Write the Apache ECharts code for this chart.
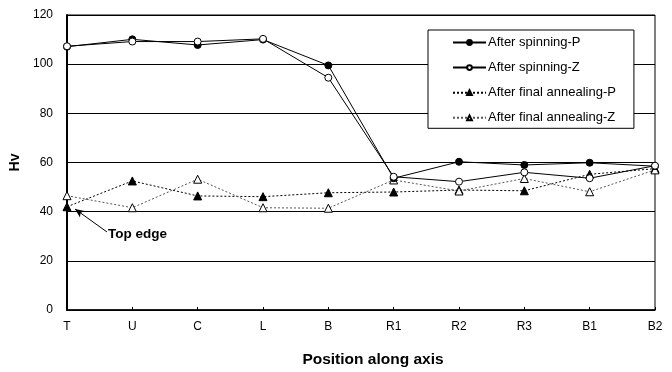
<!DOCTYPE html>
<html><head><meta charset="utf-8">
<script src="https://cdn.jsdelivr.net/npm/echarts@6/dist/echarts.min.js"></script>
<style>html,body{margin:0;padding:0;background:#fff}#c{width:672px;height:372px}</style>
</head><body><div id="c"></div>
<script>
const categories = ['T','U','C','L','B','R1','R2','R3','B1','B2'];
const spinningP = [107.1,110.1,107.8,110.0,99.5,53.6,60.3,59.0,59.9,58.5];
const spinningZ = [107.3,109.2,109.2,110.3,94.5,54.2,52.2,56.0,53.6,58.7];
const annealP = [42.0,52.5,46.4,46.1,47.7,48.0,48.8,48.5,55.2,57.5];
const annealZ = [46.5,41.6,53.2,41.6,41.4,52.9,48.4,53.5,48.1,57.0];
const yTicks = {min:0, max:120, interval:20};
const seriesNames = ['After spinning-P','After spinning-Z','After final annealing-P','After final annealing-Z'];
const annotationText = 'Top edge';

const FONT = 'Liberation Sans, Arial, sans-serif';
const chart = echarts.init(document.getElementById('c'), null, {renderer:'canvas'});
const mk = (name, data, symbol, fill, dash, lineColor) => ({
  name, type:'line', data, symbol, symbolSize: symbol==='circle'?7:8,
  showAllSymbol:true, z: symbol==='circle'?5:3,
  lineStyle:{color:lineColor, width:1, type:dash},
  itemStyle:{color:fill, borderColor:'#000', borderWidth:1},
  emphasis:{disabled:true}, animation:false
});
const series = [
  mk(seriesNames[0], spinningP, 'circle', '#000', 'solid', '#000'),
  mk(seriesNames[1], spinningZ, 'circle', '#fff', 'solid', '#000'),
  mk(seriesNames[2], annealP, 'triangle', '#000', [2,2], '#000'),
  mk(seriesNames[3], annealZ, 'triangle', '#fff', [2,2], '#555')
];
chart.setOption({
  animation:false,
  backgroundColor:'#fff',
  grid:{left:67, right:17, top:15, bottom:62, containLabel:false, outerBoundsMode:'none',
    show:true, borderColor:'#000', borderWidth:1, backgroundColor:'transparent'},
  legend:{
    orient:'vertical', left:428, top:30, itemWidth:33, itemHeight:6, itemGap:12.1,
    padding:[6,18,4,24], backgroundColor:'#fff', borderColor:'#000', borderWidth:1,
    textStyle:{fontFamily:FONT, fontSize:13, color:'#000', padding:[0,0,0,-3]}, data:seriesNames,
    selectedMode:false
  },
  xAxis:{
    type:'category', data:categories, boundaryGap:false,
    name:'Position along axis', nameLocation:'middle', nameGap:42,
    nameTextStyle:{fontFamily:FONT, fontSize:15.5, fontWeight:'bold', color:'#000', padding:[0,0,0,24]},
    axisLine:{lineStyle:{color:'#000', width:1.5}},
    axisTick:{show:true, inside:true, length:3, lineStyle:{color:'#000'}},
    axisLabel:{fontFamily:FONT, fontSize:12, color:'#000', margin:11},
    splitLine:{show:false}
  },
  yAxis:{
    type:'value', min:yTicks.min, max:yTicks.max, interval:yTicks.interval,
    name:'Hv', nameLocation:'middle', nameGap:40, nameRotate:90,
    nameTextStyle:{fontFamily:FONT, fontSize:14, fontWeight:'bold', color:'#000'},
    axisLine:{show:true, lineStyle:{color:'#000', width:2}},
    axisTick:{show:false},
    axisLabel:{fontFamily:FONT, fontSize:12, color:'#000', margin:14},
    splitLine:{show:true, lineStyle:{color:'#000', width:1}}
  },
  series:[...series, {
    type:'line', data:[], silent:true,
    markLine:{silent:true, symbol:['arrow','none'], symbolSize:[6,9], animation:false,
      lineStyle:{color:'#000', width:1, type:'solid'}, label:{show:false},
      data:[[{x:75,y:209},{x:107,y:232}]]}
  }],
  graphic:[{type:'text', left:108, top:227, style:{text:annotationText, font:'bold 13.5px '+FONT, fill:'#000'}}]
});
</script></body></html>
